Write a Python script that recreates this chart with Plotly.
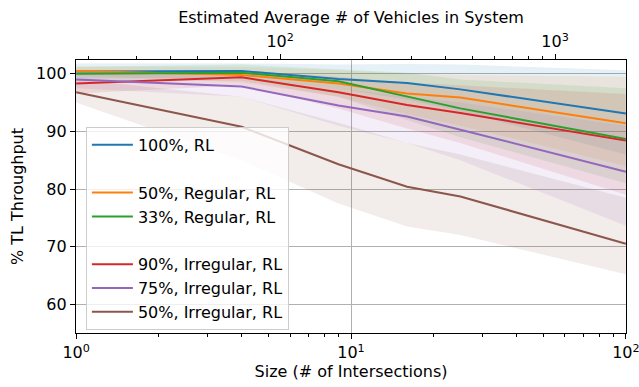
import numpy as np
import plotly.graph_objects as go

sizes = [1, 4, 9, 16, 25, 100]
veh_factor = 18.1  # estimated vehicles per intersection (top axis)

names = ["100%, RL", "50%, Regular, RL", "33%, Regular, RL",
         "90%, Irregular, RL", "75%, Irregular, RL", "50%, Irregular, RL"]
groups = ["a", "b", "b", "c", "c", "c"]
colors = ["#1f77b4", "#ff7f0e", "#2ca02c", "#d62728", "#9467bd", "#8c564b"]

mean_100 = [100.4, 100.5, 99.1, 98.4, 97.3, 93.1]
mean_50reg = [100.5, 99.8, 98.3, 96.6, 95.9, 91.4]
mean_33reg = [100.0, 100.2, 98.7, 96.1, 94.0, 88.7]
mean_90irr = [98.3, 99.4, 96.8, 94.6, 93.2, 88.4]
mean_75irr = [99.0, 97.8, 94.5, 92.6, 90.3, 83.0]
mean_50irr = [96.8, 90.8, 84.3, 80.4, 78.7, 70.5]

hi_100 = [101.8, 101.8, 101.6, 101.7, 101.6, 100.6]
lo_100 = [99.2, 99.3, 97.5, 95.5, 93.5, 86.0]
hi_50reg = [101.3, 101.2, 100.6, 100.0, 99.8, 99.5]
lo_50reg = [99.7, 98.5, 96.0, 93.0, 91.0, 84.0]
hi_33reg = [101.2, 101.6, 100.8, 100.2, 99.0, 97.5]
lo_33reg = [98.8, 98.8, 96.0, 92.0, 89.0, 81.0]
hi_90irr = [100.0, 100.6, 99.5, 98.5, 98.0, 96.5]
lo_90irr = [96.6, 98.0, 94.0, 90.5, 88.0, 79.0]
hi_75irr = [100.5, 99.5, 97.5, 96.0, 95.0, 91.0]
lo_75irr = [97.5, 96.0, 91.0, 88.0, 85.0, 73.6]
hi_50irr = [99.0, 96.0, 91.5, 88.0, 86.0, 78.5]
lo_50irr = [95.0, 85.0, 77.5, 73.5, 72.0, 65.2]

means = [mean_100, mean_50reg, mean_33reg, mean_90irr, mean_75irr, mean_50irr]
his = [hi_100, hi_50reg, hi_33reg, hi_90irr, hi_75irr, hi_50irr]
los = [lo_100, lo_50reg, lo_33reg, lo_90irr, lo_75irr, lo_50irr]

x_tickvals = [1, 10, 100]
x_ticktext = ["10<sup>0</sup>", "10<sup>1</sup>", "10<sup>2</sup>"]
y_tickvals = [60, 70, 80, 90, 100]
top_tickvals = [100, 1000]
top_ticktext = ["10<sup>2</sup>", "10<sup>3</sup>"]


def hex_rgba(h, a):
    h = h.lstrip("#")
    return "rgba(%d,%d,%d,%s)" % (int(h[0:2], 16), int(h[2:4], 16), int(h[4:6], 16), a)


fig = go.Figure()

for c, hi, lo in zip(colors, his, los):
    fig.add_trace(go.Scatter(
        x=sizes + sizes[::-1], y=hi + lo[::-1], fill="toself",
        fillcolor=hex_rgba(c, 0.11), line=dict(width=0), mode="lines",
        showlegend=False, hoverinfo="skip"))

for n, g, c, m in zip(names, groups, colors, means):
    fig.add_trace(go.Scatter(x=sizes, y=m, mode="lines", name=n, legendgroup=g,
                             line=dict(color=c, width=2)))

# invisible trace to activate top axis
top_x = [s * veh_factor for s in sizes]
fig.add_trace(go.Scatter(x=top_x, y=mean_100, xaxis="x2", mode="lines",
                         line=dict(width=0, color="rgba(0,0,0,0)"),
                         showlegend=False, hoverinfo="skip"))

font = dict(family="DejaVu Sans", size=16, color="black")
title_font = dict(family="DejaVu Sans", size=16, color="black")
minor_bottom = [v * d for d in (1, 10) for v in range(2, 10)]
minor_top = [v * d for d in (10, 100, 1000) for v in range(2, 10)]
minor_top = [v for v in minor_top if veh_factor < v < 100 * veh_factor]

eps = 0.0005
fig.update_layout(
    width=639, height=387,
    margin=dict(l=76, r=13, t=60, b=54),
    paper_bgcolor="white", plot_bgcolor="white",
    font=font,
    xaxis=dict(type="log", range=[-eps, 2 + eps], tickvals=x_tickvals, ticktext=x_ticktext,
               ticks="outside", ticklen=5, tickwidth=1.2, tickcolor="black",
               ticklabeloverflow="allow",
               showgrid=True, gridcolor="#b0b0b0", gridwidth=1,
               showline=True, linecolor="black", linewidth=1.3, mirror=False,
               title=dict(text="Size (# of Intersections)", standoff=3, font=title_font),
               minor=dict(tickvals=minor_bottom, ticks="outside", ticklen=3,
                          tickcolor="black", showgrid=False),
               zeroline=False, automargin=False),
    xaxis2=dict(type="log",
                range=[np.log10(veh_factor) - eps, np.log10(100 * veh_factor) + eps],
                overlaying="x", side="top", tickvals=top_tickvals, ticktext=top_ticktext,
                ticks="outside", ticklen=5, tickcolor="black", showgrid=False,
                ticklabeloverflow="allow",
                showline=True, linecolor="black", linewidth=1.3,
                title=dict(text="Estimated Average # of Vehicles in System", standoff=3,
                           font=title_font),
                minor=dict(tickvals=minor_top, ticks="outside", ticklen=3,
                           tickcolor="black", showgrid=False),
                automargin=False),
    yaxis=dict(range=[55, 102.4], tickvals=y_tickvals,
               ticks="outside", ticklen=5, tickcolor="black",
               showgrid=True, gridcolor="#b0b0b0", gridwidth=1,
               showline=True, linecolor="black", linewidth=1.3, mirror=True,
               title=dict(text="% TL Throughput", standoff=8, font=title_font),
               zeroline=False, automargin=False),
    legend=dict(x=0.018, y=0.755, xanchor="left", yanchor="top",
                bgcolor="rgba(255,255,255,0.8)", bordercolor="#cccccc", borderwidth=1,
                traceorder="grouped", tracegroupgap=24, font=font, itemwidth=41),
)

fig.write_html("out.html", config={"displayModeBar": False},
               post_script="document.body.style.margin='0';document.body.style.padding='0';")
